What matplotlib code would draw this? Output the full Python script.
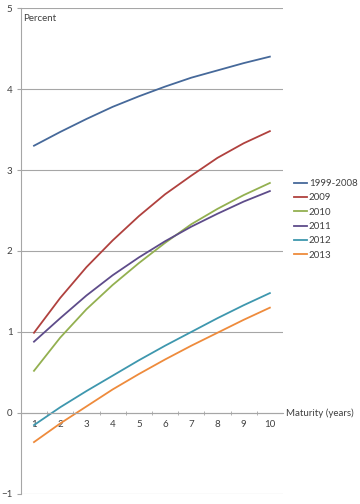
import matplotlib
matplotlib.use('Agg')
import matplotlib.pyplot as plt
import numpy as np

plt.rcParams['font.family'] = ['Lato', 'DejaVu Sans']

maturity = [1, 2, 3, 4, 5, 6, 7, 8, 9, 10]
series_names = ['1999-2008', '2009', '2010', '2011', '2012', '2013']
y_1999_2008 = [3.30, 3.47, 3.63, 3.78, 3.91, 4.03, 4.14, 4.23, 4.32, 4.40]
y_2009 = [0.99, 1.42, 1.80, 2.13, 2.43, 2.70, 2.93, 3.15, 3.33, 3.48]
y_2010 = [0.52, 0.93, 1.28, 1.58, 1.85, 2.10, 2.33, 2.52, 2.69, 2.84]
y_2011 = [0.88, 1.17, 1.45, 1.70, 1.92, 2.12, 2.30, 2.46, 2.61, 2.74]
y_2012 = [-0.15, 0.07, 0.27, 0.46, 0.65, 0.83, 1.00, 1.17, 1.33, 1.48]
y_2013 = [-0.36, -0.13, 0.08, 0.29, 0.48, 0.66, 0.83, 0.99, 1.15, 1.30]
colors = ['#46699A', '#B0413E', '#93B050', '#5E4C8A', '#3E97AE', '#EE8B3C']

fig = plt.figure(figsize=(3.6, 5.04), dpi=100)
ax = fig.add_axes([0.058, 0.02, 0.728, 0.964])

all_y = [y_1999_2008, y_2009, y_2010, y_2011, y_2012, y_2013]
for name, ys, c in zip(series_names, all_y, colors):
    ax.plot(maturity, ys, color=c, lw=1.3, label=name)

ax.set_xlim(0.5, 10.5)
ax.set_ylim(-1, 5)
ax.set_yticks(range(-1, 6))
ax.yaxis.grid(True, color='#a6a6a6', lw=0.8)
ax.set_axisbelow(True)

for s in ['top', 'right']:
    ax.spines[s].set_visible(False)
ax.spines['left'].set_color('#a6a6a6')
ax.spines['bottom'].set_color('#a6a6a6')
ax.spines['bottom'].set_position(('data', 0))

ax.set_xticks(maturity)
ax.set_xticks(np.arange(1.5, 10.5, 1), minor=True)
ax.tick_params(axis='x', which='major', length=0, pad=5, labelsize=7, labelcolor='#404040')
ax.tick_params(axis='x', which='minor', length=3, direction='inout', color='#a6a6a6')
ax.tick_params(axis='y', length=3, color='#a6a6a6', labelsize=7, labelcolor='#404040', pad=3)

ax.text(0.6, 4.93, 'Percent', fontsize=7, color='#404040', va='top', ha='left')
ax.text(10.6, 0.0, 'Maturity (years)', fontsize=7, color='#404040', va='center', ha='left')

ax.legend(loc='center left', bbox_to_anchor=(1.01, 0.565), frameon=False, fontsize=7,
          handlelength=1.3, handletextpad=0.2, labelspacing=0.55, labelcolor='#404040')

fig.savefig('out.png', dpi=100)
